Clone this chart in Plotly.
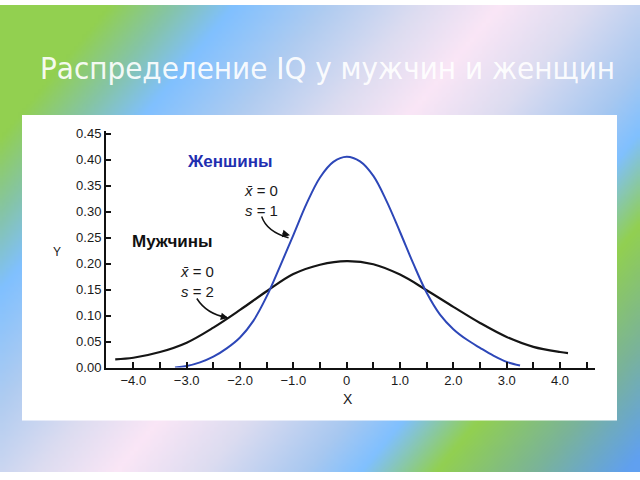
import base64
import struct
import zlib

import plotly.graph_objects as go

# ---------------- data ----------------
women_x = [-3.22, -3.0, -2.75, -2.5, -2.25, -2.0, -1.75, -1.5, -1.25, -1.0, -0.75, -0.5, -0.25,
           0.0, 0.25, 0.5, 0.75, 1.0, 1.25, 1.5, 1.75, 2.0, 2.25, 2.5, 2.75, 3.0, 3.25]
women_y = [0.0, 0.003, 0.010, 0.021, 0.037, 0.058, 0.090, 0.137, 0.195, 0.255, 0.316, 0.366, 0.396,
           0.406, 0.397, 0.369, 0.320, 0.261, 0.200, 0.144, 0.102, 0.074, 0.054, 0.038, 0.023, 0.011, 0.004]

men_x = [-4.34, -4.0, -3.5, -3.0, -2.5, -2.0, -1.5, -1.0, -0.5, 0.0,
         0.5, 1.0, 1.5, 2.0, 2.5, 3.0, 3.5, 4.0, 4.15]
men_y = [0.016, 0.019, 0.030, 0.048, 0.077, 0.111, 0.147, 0.180, 0.198, 0.205,
         0.199, 0.179, 0.149, 0.117, 0.086, 0.059, 0.040, 0.030, 0.028]

x_tick_vals = [-4.0, -3.5, -3.0, -2.5, -2.0, -1.5, -1.0, -0.5, 0.0, 0.5, 1.0, 1.5, 2.0, 2.5, 3.0, 3.5, 4.0, 4.5]
x_tick_text = ["\u22124.0", "", "\u22123.0", "", "\u22122.0", "", "\u22121.0", "", "0", "",
               "1.0", "", "2.0", "", "3.0", "", "4.0", ""]
y_tick_vals = [0.0, 0.05, 0.10, 0.15, 0.20, 0.25, 0.30, 0.35, 0.40, 0.45]

title_text = "Распределение IQ у мужчин и женщин"
women_label = "Женшины"
men_label = "Мужчины"
women_params = "<i>x\u0304</i> = 0<br><i>s</i> = 1"
men_params = "<i>x\u0304</i> = 0<br><i>s</i> = 2"

# ---------------- background gradient image ----------------
stops = [
    (0, "#92d050"), (110, "#92d050"), (175, "#85c4a8"), (235, "#80c0ff"),
    (330, "#b0ccf0"), (420, "#dcdcf0"), (500, "#fae6f6"), (590, "#dcdcf0"),
    (690, "#a8c8f0"), (745, "#80c0ff"), (820, "#92d050"), (920, "#7ab39a"),
    (1010, "#60a0f0"),
]


def hex_rgb(h):
    return tuple(int(h[i:i + 2], 16) for i in (1, 3, 5))


def color_at(t):
    if t <= stops[0][0]:
        return hex_rgb(stops[0][1])
    for (t0, c0), (t1, c1) in zip(stops, stops[1:]):
        if t0 <= t <= t1:
            f = (t - t0) / (t1 - t0)
            a, b = hex_rgb(c0), hex_rgb(c1)
            return tuple(int(round(a[k] + (b[k] - a[k]) * f)) for k in range(3))
    return hex_rgb(stops[-1][1])


W, H, S = 160, 120, 4
raw = bytearray()
for j in range(H):
    raw.append(0)
    for i in range(W):
        t = (i + 0.5) * S + 0.8 * (j + 0.5) * S
        raw.extend(color_at(t))


def chunk(tag, data):
    c = struct.pack(">I", len(data)) + tag + data
    return c + struct.pack(">I", zlib.crc32(tag + data) & 0xFFFFFFFF)


png = b"\x89PNG\r\n\x1a\n" + chunk(b"IHDR", struct.pack(">IIBBBBB", W, H, 8, 2, 0, 0, 0)) \
    + chunk(b"IDAT", zlib.compress(bytes(raw), 9)) + chunk(b"IEND", b"")
bg_src = "data:image/png;base64," + base64.b64encode(png).decode()

# ---------------- figure ----------------
fig = go.Figure()
fig.add_trace(go.Scatter(x=men_x, y=men_y, mode="lines",
                         line=dict(color="#151515", width=2.2, shape="spline", smoothing=1.0),
                         hoverinfo="skip", showlegend=False))
fig.add_trace(go.Scatter(x=women_x, y=women_y, mode="lines",
                         line=dict(color="#2d47b8", width=2, shape="spline", smoothing=1.0),
                         hoverinfo="skip", showlegend=False))

tick_font = dict(family="Liberation Sans, Arial, sans-serif", size=13, color="#1a1a1a")

fig.update_layout(
    width=640, height=480,
    margin=dict(l=0, r=0, t=0, b=0),
    paper_bgcolor="#ffffff",
    plot_bgcolor="rgba(0,0,0,0)",
    showlegend=False,
    xaxis=dict(domain=[106 / 640, 595 / 640], range=[-4.513, 4.656],
               showgrid=False, zeroline=False, showline=True, linecolor="#111", linewidth=2,
               ticks="inside", ticklen=6, tickwidth=1.5, tickcolor="#111",
               tickvals=x_tick_vals, ticktext=x_tick_text, tickfont=tick_font, fixedrange=True),
    yaxis=dict(domain=[1 - 372.7 / 480, 1 - 130 / 480], range=[0, 0.4545],
               showgrid=False, zeroline=False, showline=True, linecolor="#111", linewidth=2,
               ticks="inside", ticklen=5, tickwidth=1.5, tickcolor="#111",
               tickvals=y_tick_vals, tickformat=".2f", tickfont=tick_font, fixedrange=True),
    images=[dict(source=bg_src, xref="paper", yref="paper", x=0, y=1, sizex=1, sizey=1,
                 sizing="stretch", layer="below", xanchor="left", yanchor="top")],
    shapes=[
        dict(type="rect", xref="paper", yref="paper", x0=22 / 640, x1=617 / 640,
             y0=1 - 427 / 480, y1=1 - 113 / 480, fillcolor="#ffffff", line=dict(width=0),
             layer="below"),
        dict(type="path", xref="x", yref="y", path="M -1.594,0.291 Q -1.5,0.262 -1.09,0.250",
             line=dict(color="#111", width=1.5)),
        dict(type="path", xref="x", yref="y", path="M -2.81,0.133 Q -2.625,0.103 -2.25,0.0965",
             line=dict(color="#111", width=1.5)),
    ],
)

ann_font = dict(family="Liberation Sans, Arial, sans-serif", size=15, color="#1a1a1a")
annotations = [
    dict(text=title_text, xref="paper", yref="paper", x=38 / 640, y=1 - 65 / 480,
         xanchor="left", yanchor="middle", showarrow=False,
         font=dict(family="DejaVu Sans Condensed, DejaVu Sans, sans-serif", size=31,
                   color="rgba(255,255,255,0.93)")),
    dict(text="<b>" + women_label + "</b>", xref="x", yref="y", x=-3.03, y=0.397,
         xanchor="left", yanchor="middle", showarrow=False,
         font=dict(family="Liberation Sans, Arial, sans-serif", size=17, color="#1f2fb0")),
    dict(text="<b>" + men_label + "</b>", xref="x", yref="y", x=-4.06, y=0.243,
         xanchor="left", yanchor="middle", showarrow=False,
         font=dict(family="Liberation Sans, Arial, sans-serif", size=17, color="#111")),
    dict(text=women_params, xref="x", yref="y", x=-1.97, y=0.321, xanchor="left",
         yanchor="middle", showarrow=False, align="left", font=ann_font),
    dict(text=men_params, xref="x", yref="y", x=-3.16, y=0.165, xanchor="left",
         yanchor="middle", showarrow=False, align="left", font=ann_font),
    dict(text="", xref="x", yref="y", x=-1.063, y=0.255, ax=-9, ay=-2, showarrow=True,
         arrowhead=2, arrowsize=1, arrowwidth=1.5, arrowcolor="#111", standoff=0),
    dict(text="", xref="x", yref="y", x=-2.22, y=0.0955, ax=-9, ay=-2, showarrow=True,
         arrowhead=2, arrowsize=1, arrowwidth=1.5, arrowcolor="#111", standoff=0),
    dict(text="Y", xref="paper", yref="paper", x=57 / 640, y=1 - 254 / 480,
         xanchor="center", yanchor="middle", showarrow=False,
         font=dict(family="Liberation Sans, Arial, sans-serif", size=12, color="#1a1a1a")),
    dict(text="X", xref="paper", yref="paper", x=348 / 640, y=1 - 405 / 480,
         xanchor="center", yanchor="middle", showarrow=False,
         font=dict(family="Liberation Sans, Arial, sans-serif", size=14, color="#1a1a1a")),
]
fig.update_layout(annotations=annotations)

fig.write_html("out.html")
